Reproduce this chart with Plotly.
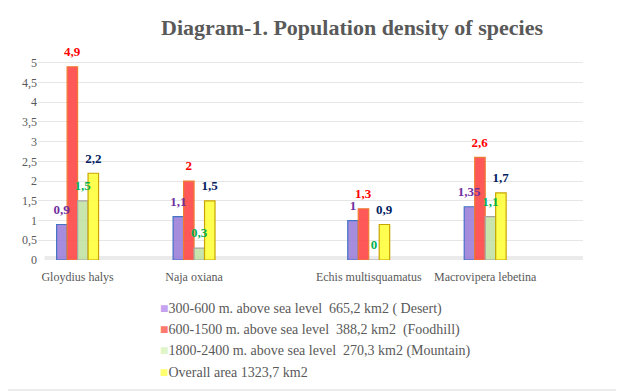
import plotly.graph_objects as go

species = ["Gloydius halys", "Naja oxiana", "Echis multisquamatus", "Macrovipera lebetina"]
desert = [0.9, 1.1, 1.0, 1.35]
foodhill = [4.9, 2.0, 1.3, 2.6]
mountain = [1.5, 0.3, 0.0, 1.1]
overall = [2.2, 1.5, 0.9, 1.7]
series_names = [
    "300-600 m. above sea level  665,2 km2 ( Desert)",
    "600-1500 m. above sea level  388,2 km2  (Foodhill)",
    "1800-2400 m. above sea level  270,3 km2 (Mountain)",
    "Overall area 1323,7 km2",
]
y_ticks = [0, 0.5, 1, 1.5, 2, 2.5, 3, 3.5, 4, 4.5, 5]

# layout positions of the category groups (wider gap between 2nd and 3rd group)
pos = [i + (0.5 if i >= 2 else 0) for i in range(len(species))]

# the page body has an 8px margin, so the figure is drawn 8px smaller
W, H = 616, 383
ml, mr, mt, mb = 30, 41, 41, 131
SERIF = "Liberation Serif, Times New Roman, serif"

def fmt(v):
    return ("%g" % v).replace(".", ",")

styles = [
    dict(fill="rgba(150,120,215,0.85)", line="#4472c4", tc="#7030a0", leg="#c5a3f0"),
    dict(fill="rgba(255,70,70,0.9)", line="#ed7d31", tc="#ff0000", leg="#ff7a6e"),
    dict(fill="rgba(190,225,160,0.85)", line="#a5a5a5", tc="#00b050", leg="#e0f5c8"),
    dict(fill="rgba(255,255,60,0.9)", line="#c9a400", tc="#002060", leg="#ffff70"),
]
all_vals = [desert, foodhill, mountain, overall]

fig = go.Figure()
for k, (vals, name, st) in enumerate(zip(all_vals, series_names, styles)):
    fig.add_trace(go.Bar(
        x=pos, y=vals, name=name, offsetgroup=str(k), showlegend=False,
        marker=dict(color=st["fill"], line=dict(color=st["line"], width=1.2)),
        hoverinfo="skip",
    ))
# value labels drawn on top of all bars, lifted slightly (3D-style top face)
for k, (vals, st) in enumerate(zip(all_vals, styles)):
    fig.add_trace(go.Bar(
        x=pos, y=vals, base=0.12, offsetgroup=str(k), showlegend=False,
        marker=dict(color="rgba(0,0,0,0)", line=dict(width=0)),
        text=[fmt(v) for v in vals], textposition="outside", constraintext="none",
        textfont=dict(family=SERIF, size=13, color=st["tc"], weight="bold"),
        cliponaxis=False, hoverinfo="skip",
    ))
# legend entries: small coloured square glyph followed by the series name
for name, st in zip(series_names, styles):
    fig.add_trace(go.Scatter(
        x=[None], y=[None], mode="markers",
        name='<span style="color:%s">■</span>%s' % (st["leg"], name),
        marker=dict(color="rgba(0,0,0,0)", size=1, line=dict(width=0)),
    ))

fig.update_layout(
    width=W, height=H,
    margin=dict(l=ml, r=mr, t=mt, b=mb, autoexpand=False),
    paper_bgcolor="white", plot_bgcolor="white",
    separators=", ",
    barmode="group", bargap=0.64, bargroupgap=0.0,
    title=dict(text="<b>Diagram-1. Population density of species</b>",
               x=344 / W, xanchor="center", xref="container",
               y=1 - 19 / H, yanchor="middle", yref="container",
               font=dict(family=SERIF, size=22, color="#595959")),
    xaxis=dict(range=[-0.34, 4.34], tickvals=pos, ticktext=species, showgrid=False,
               zeroline=False, showline=False, ticks="", ticklabelstandoff=8,
               automargin=False,
               tickfont=dict(family=SERIF, size=12, color="#595959")),
    yaxis=dict(range=[0, 5.35], tickvals=y_ticks, showgrid=True, gridcolor="#e6e6e6",
               gridwidth=1, zeroline=False, showline=False, ticks="", automargin=False,
               tickfont=dict(family=SERIF, size=12, color="#595959")),
    legend=dict(x=112 / W, y=1 - 284 / H, xref="container", yref="container",
                xanchor="left", yanchor="top",
                orientation="v", bgcolor="rgba(0,0,0,0)",
                font=dict(family=SERIF, size=14, color="#595959")),
    showlegend=True,
)

pw = W - ml - mr
ph = H - mt - mb
# floor band
fig.add_shape(type="rect", xref="paper", yref="y", x0=0.012, x1=1.0, y0=-0.05, y1=0.1,
              fillcolor="#ebebeb", line=dict(width=0), layer="below")
# visible right and bottom border of the chart area
fig.add_shape(type="line", xref="paper", yref="paper",
              x0=(W - 2 - ml) / pw, x1=(W - 2 - ml) / pw,
              y0=-(mb - 1) / ph, y1=1 + mt / ph,
              line=dict(color="#d9d9d9", width=1))
fig.add_shape(type="line", xref="paper", yref="paper",
              x0=-ml / pw, x1=(W - 2 - ml) / pw,
              y0=-(mb - 1) / ph, y1=-(mb - 1) / ph,
              line=dict(color="#d9d9d9", width=1))

fig.write_html("out.html")
